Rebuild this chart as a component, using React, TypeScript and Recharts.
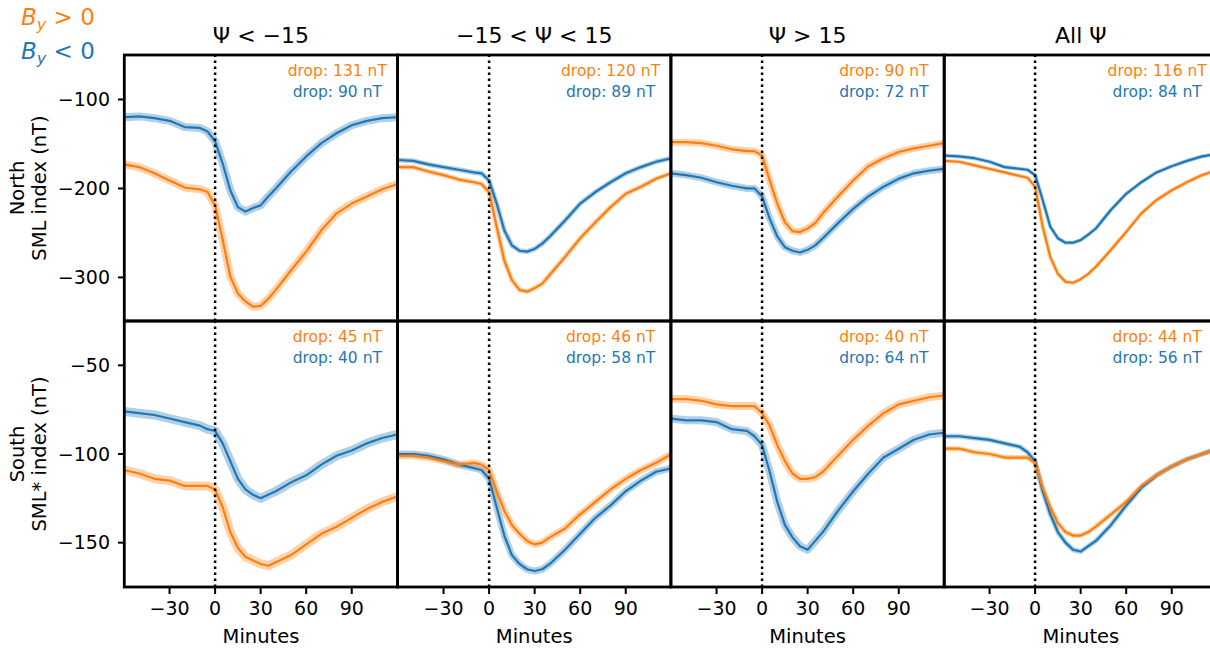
import React from "react";
import { LineChart, Line, XAxis, YAxis, ReferenceLine } from "recharts";

// minutes relative to onset
const minutes = [-60, -50, -40, -30, -20, -10, -5, 0, 5, 10, 15, 20, 25, 30, 35, 40, 50, 60, 70, 80, 90, 100, 110, 120];

// North SML (nT), columns: psi < -15, -15..15, psi > 15, all
const northPsiLowByPos = [-173, -176, -183, -191, -199, -201, -204, -219, -258, -299, -318, -327, -333, -332, -324, -314, -292, -271, -247, -228, -217, -209, -201, -195];
const northPsiLowByNeg = [-120, -119, -121, -124, -131, -132, -136, -147, -172, -202, -221, -226, -222, -219, -209, -200, -181, -164, -149, -138, -129, -124, -121, -120];
const northPsiMidByPos = [-176, -176, -181, -185, -190, -193, -195, -204, -243, -281, -303, -314, -316, -312, -307, -297, -277, -256, -238, -221, -206, -198, -189, -183];
const northPsiMidByNeg = [-168, -169, -173, -176, -179, -182, -183, -191, -217, -247, -264, -270, -271, -268, -262, -254, -236, -217, -204, -193, -183, -176, -170, -166];
const northPsiHighByPos = [-148, -148, -149, -152, -156, -158, -158, -163, -191, -217, -238, -248, -249, -245, -239, -228, -209, -191, -175, -166, -159, -155, -152, -149];
const northPsiHighByNeg = [-183, -185, -188, -193, -197, -200, -200, -209, -234, -254, -266, -270, -272, -269, -264, -256, -239, -223, -209, -198, -189, -183, -180, -178];
const northAllByPos = [-169, -170, -174, -178, -182, -186, -188, -198, -243, -277, -296, -305, -306, -302, -296, -288, -269, -249, -228, -213, -202, -193, -185, -179];
const northAllByNeg = [-163, -164, -166, -170, -176, -178, -179, -185, -213, -243, -256, -261, -261, -258, -252, -245, -224, -206, -193, -182, -175, -169, -164, -161];

// South SML* (nT)
const southPsiLowByPos = [-109, -111, -114, -115, -118, -118, -118, -120, -130, -144, -153, -158, -160, -162, -163, -161, -157, -151, -145, -141, -136, -131, -127, -124];
const southPsiLowByNeg = [-76, -77, -78, -80, -82, -84, -86, -87, -94, -104, -114, -120, -123, -125, -123, -121, -116, -112, -106, -101, -98, -94, -91, -89];
const southPsiMidByPos = [-101, -101, -102, -104, -106, -105, -106, -109, -121, -132, -140, -145, -149, -151, -150, -147, -142, -134, -127, -120, -114, -109, -105, -100];
const southPsiMidByNeg = [-100, -100, -101, -103, -106, -108, -109, -114, -130, -146, -157, -162, -165, -166, -165, -162, -154, -145, -136, -129, -121, -115, -110, -108];
const southPsiHighByPos = [-69, -69, -70, -72, -73, -73, -73, -77, -84, -95, -104, -111, -114, -114, -113, -110, -101, -92, -84, -77, -72, -70, -68, -67];
const southPsiHighByNeg = [-80, -81, -81, -82, -86, -87, -90, -95, -110, -127, -140, -147, -152, -154, -149, -144, -132, -121, -111, -102, -97, -92, -89, -88];
const southAllByPos = [-97, -97, -99, -100, -102, -102, -102, -105, -119, -130, -139, -144, -146, -146, -144, -141, -134, -127, -118, -112, -107, -103, -100, -97];
const southAllByNeg = [-90, -90, -91, -92, -94, -96, -99, -104, -121, -134, -144, -150, -154, -155, -152, -149, -140, -129, -119, -112, -107, -103, -100, -97];

const titles = ["\u03A8 < \u221215", "\u221215 < \u03A8 < 15", "\u03A8 > 15", "All \u03A8"];
const northDropPos = [131, 120, 90, 116];
const northDropNeg = [90, 89, 72, 84];
const southDropPos = [45, 46, 40, 44];
const southDropNeg = [40, 58, 64, 56];
const xTicks = [-30, 0, 30, 60, 90];
const northTicks = [-300, -200, -100];
const southTicks = [-150, -100, -50];

const ORANGE = "#ff7f0e";
const BLUE = "#1f77b4";
const FONT = '"DejaVu Sans", sans-serif';

const PLOT_LEFT = 124.3;
const PANEL_W = 273.3;
const PANEL_H = 266;
const ROW_TOP = [55, 321];
const Y_AXIS_W = 90;
const X_AXIS_H = 45;

const rows = [
  {
    domain: [-349, -50],
    ticks: northTicks,
    pos: [northPsiLowByPos, northPsiMidByPos, northPsiHighByPos, northAllByPos],
    neg: [northPsiLowByNeg, northPsiMidByNeg, northPsiHighByNeg, northAllByNeg],
    dropPos: northDropPos,
    dropNeg: northDropNeg,
    band: [6, 3, 5, 2],
  },
  {
    domain: [-175, -25],
    ticks: southTicks,
    pos: [southPsiLowByPos, southPsiMidByPos, southPsiHighByPos, southAllByPos],
    neg: [southPsiLowByNeg, southPsiMidByNeg, southPsiHighByNeg, southAllByNeg],
    dropPos: southDropPos,
    dropNeg: southDropNeg,
    band: [7, 5, 6, 3],
  },
];

const fmt = (v: number) => String(v).replace("-", "\u2212");

const Panel = ({ row, col }: { row: number; col: number }) => {
  const r = rows[row];
  const data = minutes.map((t, i) => ({ t, pos: r.pos[col][i], neg: r.neg[col][i] }));
  const showY = col === 0;
  const showX = row === 1;
  const yW = showY ? Y_AXIS_W : 0;
  const xH = showX ? X_AXIS_H : 0;
  const left = PLOT_LEFT + col * PANEL_W;
  const band = r.band[col];
  const tickStyle = { fontSize: 19, fill: "#000", fontFamily: FONT };

  return (
    <div style={{ position: "absolute", left: left - yW, top: ROW_TOP[row] }}>
      <LineChart
        width={PANEL_W + yW}
        height={PANEL_H + xH}
        data={data}
        margin={{ top: 0, right: 0, bottom: 0, left: 0 }}
      >
        <XAxis
          type="number"
          dataKey="t"
          domain={[-60, 120]}
          ticks={xTicks}
          allowDataOverflow
          hide={!showX}
          height={xH}
          axisLine={false}
          tickLine={{ stroke: "#000", strokeWidth: 2 }}
          tickSize={7}
          tickMargin={8}
          tick={tickStyle}
          tickFormatter={fmt}
        />
        <YAxis
          type="number"
          domain={r.domain}
          ticks={r.ticks}
          allowDataOverflow
          hide={!showY}
          width={yW}
          axisLine={false}
          tickLine={{ stroke: "#000", strokeWidth: 2 }}
          tickSize={6}
          tickMargin={8}
          tick={tickStyle}
          tickFormatter={fmt}
        />
        {/* shaded uncertainty bands */}
        <Line dataKey="neg" stroke={BLUE} strokeOpacity={0.35} strokeWidth={band + 2} dot={false} isAnimationActive={false} strokeLinejoin="round" />
        <Line dataKey="pos" stroke={ORANGE} strokeOpacity={0.35} strokeWidth={band + 2} dot={false} isAnimationActive={false} strokeLinejoin="round" />
        <Line dataKey="neg" stroke={BLUE} strokeWidth={2.2} dot={false} isAnimationActive={false} strokeLinejoin="round" />
        <Line dataKey="pos" stroke={ORANGE} strokeWidth={2.2} dot={false} isAnimationActive={false} strokeLinejoin="round" />
        <ReferenceLine x={0} stroke="#000" strokeWidth={2.5} strokeDasharray="2.5 3.5" />
      </LineChart>
    </div>
  );
};

const Overlay = () => {
  const cols = [0, 1, 2, 3];
  return (
    <svg
      width={1210}
      height={649}
      style={{ position: "absolute", left: 0, top: 0, pointerEvents: "none", fontFamily: FONT }}
    >
      {/* legend */}
      <text x={21} y={25} fontSize={23} fill={ORANGE}>
        <tspan fontStyle="italic">B</tspan>
        <tspan fontStyle="italic" fontSize={16} dy={4.5}>y</tspan>
        <tspan dy={-4.5}>{" > 0"}</tspan>
      </text>
      <text x={21} y={59} fontSize={23} fill={BLUE}>
        <tspan fontStyle="italic">B</tspan>
        <tspan fontStyle="italic" fontSize={16} dy={4.5}>y</tspan>
        <tspan dy={-4.5}>{" < 0"}</tspan>
      </text>

      {/* y labels */}
      {[
        ["North", "SML index (nT)"],
        ["South", "SML* index (nT)"],
      ].map((lbl, ri) => {
        const cy = ROW_TOP[ri] + PANEL_H / 2;
        return (
          <g key={ri} fontSize={19.5} fill="#000">
            <text x={24} y={cy} textAnchor="middle" transform={`rotate(-90 24 ${cy})`}>{lbl[0]}</text>
            <text x={46} y={cy} textAnchor="middle" transform={`rotate(-90 46 ${cy})`}>{lbl[1]}</text>
          </g>
        );
      })}

      {cols.map((c) => {
        const left = PLOT_LEFT + c * PANEL_W;
        return (
          <g key={c}>
            <text x={left + PANEL_W / 2} y={43} textAnchor="middle" fontSize={22} fill="#000">{titles[c]}</text>
            <text x={left + PANEL_W / 2} y={643} textAnchor="middle" fontSize={19.5} fill="#000">Minutes</text>
            {rows.map((r, ri) => (
              <g key={ri} fontSize={15.5} textAnchor="middle">
                <text x={left + 213} y={ROW_TOP[ri] + 21} fill={ORANGE}>{`drop: ${r.dropPos[c]} nT`}</text>
                <text x={left + 213} y={ROW_TOP[ri] + 42} fill={BLUE}>{`drop: ${r.dropNeg[c]} nT`}</text>
                <rect x={left} y={ROW_TOP[ri]} width={PANEL_W} height={PANEL_H} fill="none" stroke="#000" strokeWidth={2.8} />
              </g>
            ))}
          </g>
        );
      })}
    </svg>
  );
};

export default function App() {
  return (
    <div
      style={{
        position: "absolute",
        left: 0,
        top: 0,
        width: 1210,
        height: 649,
        overflow: "hidden",
        background: "#fff",
        fontFamily: FONT,
      }}
    >
      {[0, 1].map((row) => [0, 1, 2, 3].map((col) => <Panel key={`${row}-${col}`} row={row} col={col} />))}
      <Overlay />
    </div>
  );
}
